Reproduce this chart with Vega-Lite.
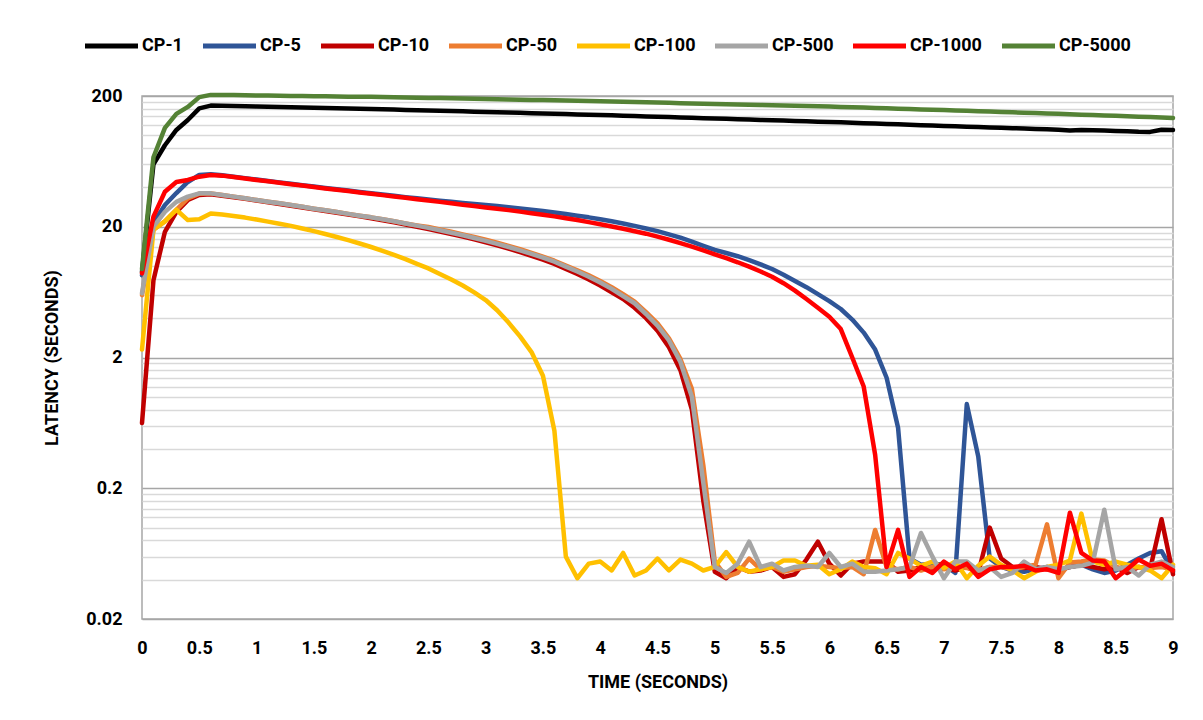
{
"$schema": "https://vega.github.io/schema/vega-lite/v6.json",
"width": 1031, "height": 523,
"autosize": {"type": "none"},
"padding": {"left": 142, "top": 96, "right": 30, "bottom": 101},
"background": "white",
"config": {"view": {"stroke": "#a6a6a6", "strokeWidth": 1.5}, "font": "Roboto"},
"datasets": {
"pts": [
{"s":"CP-1","t":0,"v":9},{"s":"CP-1","t":0.1,"v":60},{"s":"CP-1","t":0.2,"v":84},{"s":"CP-1","t":0.3,"v":110},{"s":"CP-1","t":0.4,"v":131},{"s":"CP-1","t":0.5,"v":161},{"s":"CP-1","t":0.6,"v":169},{"s":"CP-1","t":0.7,"v":168.3},{"s":"CP-1","t":0.8,"v":167.6},{"s":"CP-1","t":0.9,"v":166.8},
{"s":"CP-1","t":1,"v":166},{"s":"CP-1","t":1.1,"v":165.3},{"s":"CP-1","t":1.2,"v":164.6},{"s":"CP-1","t":1.3,"v":163.9},{"s":"CP-1","t":1.4,"v":163.2},{"s":"CP-1","t":1.5,"v":162.5},{"s":"CP-1","t":1.6,"v":161.8},{"s":"CP-1","t":1.7,"v":161.1},{"s":"CP-1","t":1.8,"v":160.4},{"s":"CP-1","t":1.9,"v":159.7},
{"s":"CP-1","t":2,"v":159},{"s":"CP-1","t":2.1,"v":158.2},{"s":"CP-1","t":2.2,"v":157.4},{"s":"CP-1","t":2.3,"v":156.6},{"s":"CP-1","t":2.4,"v":155.8},{"s":"CP-1","t":2.5,"v":155},{"s":"CP-1","t":2.6,"v":154.2},{"s":"CP-1","t":2.7,"v":153.4},{"s":"CP-1","t":2.8,"v":152.6},{"s":"CP-1","t":2.9,"v":151.8},
{"s":"CP-1","t":3,"v":151},{"s":"CP-1","t":3.1,"v":150.2},{"s":"CP-1","t":3.2,"v":149.4},{"s":"CP-1","t":3.3,"v":148.6},{"s":"CP-1","t":3.4,"v":147.8},{"s":"CP-1","t":3.5,"v":147},{"s":"CP-1","t":3.6,"v":146.2},{"s":"CP-1","t":3.7,"v":145.4},{"s":"CP-1","t":3.8,"v":144.6},{"s":"CP-1","t":3.9,"v":143.8},
{"s":"CP-1","t":4,"v":143},{"s":"CP-1","t":4.1,"v":142.2},{"s":"CP-1","t":4.2,"v":141.3},{"s":"CP-1","t":4.3,"v":140.5},{"s":"CP-1","t":4.4,"v":139.6},{"s":"CP-1","t":4.5,"v":138.8},{"s":"CP-1","t":4.6,"v":137.9},{"s":"CP-1","t":4.7,"v":137.1},{"s":"CP-1","t":4.8,"v":136.2},{"s":"CP-1","t":4.9,"v":135.4},
{"s":"CP-1","t":5,"v":134.5},{"s":"CP-1","t":5.1,"v":133.7},{"s":"CP-1","t":5.2,"v":132.9},{"s":"CP-1","t":5.3,"v":132.1},{"s":"CP-1","t":5.4,"v":131.3},{"s":"CP-1","t":5.5,"v":130.5},{"s":"CP-1","t":5.6,"v":129.7},{"s":"CP-1","t":5.7,"v":128.9},{"s":"CP-1","t":5.8,"v":128.1},{"s":"CP-1","t":5.9,"v":127.3},
{"s":"CP-1","t":6,"v":126.5},{"s":"CP-1","t":6.1,"v":125.7},{"s":"CP-1","t":6.2,"v":124.8},{"s":"CP-1","t":6.3,"v":124},{"s":"CP-1","t":6.4,"v":123.1},{"s":"CP-1","t":6.5,"v":122.3},{"s":"CP-1","t":6.6,"v":121.4},{"s":"CP-1","t":6.7,"v":120.6},{"s":"CP-1","t":6.8,"v":119.7},{"s":"CP-1","t":6.9,"v":118.9},
{"s":"CP-1","t":7,"v":118},{"s":"CP-1","t":7.1,"v":117.3},{"s":"CP-1","t":7.2,"v":116.5},{"s":"CP-1","t":7.3,"v":115.8},{"s":"CP-1","t":7.4,"v":115},{"s":"CP-1","t":7.5,"v":114.3},{"s":"CP-1","t":7.6,"v":113.5},{"s":"CP-1","t":7.7,"v":112.8},{"s":"CP-1","t":7.8,"v":112},{"s":"CP-1","t":7.9,"v":111.3},
{"s":"CP-1","t":8,"v":110.5},{"s":"CP-1","t":8.1,"v":109},{"s":"CP-1","t":8.2,"v":109.8},{"s":"CP-1","t":8.3,"v":109.5},{"s":"CP-1","t":8.4,"v":108.8},{"s":"CP-1","t":8.5,"v":108},{"s":"CP-1","t":8.6,"v":107.3},{"s":"CP-1","t":8.7,"v":106.5},{"s":"CP-1","t":8.8,"v":106.3},{"s":"CP-1","t":8.9,"v":110.5},{"s":"CP-1","t":9,"v":110},

{"s":"CP-5","t":0,"v":8.5},{"s":"CP-5","t":0.1,"v":21.4},{"s":"CP-5","t":0.2,"v":29.3},{"s":"CP-5","t":0.3,"v":36.2},{"s":"CP-5","t":0.4,"v":44},{"s":"CP-5","t":0.5,"v":49.8},{"s":"CP-5","t":0.6,"v":50.5},{"s":"CP-5","t":0.7,"v":49.5},{"s":"CP-5","t":0.8,"v":48.3},{"s":"CP-5","t":0.9,"v":47.1},
{"s":"CP-5","t":1,"v":45.9},{"s":"CP-5","t":1.1,"v":44.8},{"s":"CP-5","t":1.2,"v":43.7},{"s":"CP-5","t":1.3,"v":42.6},{"s":"CP-5","t":1.4,"v":41.6},{"s":"CP-5","t":1.5,"v":40.6},{"s":"CP-5","t":1.6,"v":39.6},{"s":"CP-5","t":1.7,"v":38.7},{"s":"CP-5","t":1.8,"v":37.8},{"s":"CP-5","t":1.9,"v":36.9},
{"s":"CP-5","t":2,"v":36.1},{"s":"CP-5","t":2.1,"v":35.3},{"s":"CP-5","t":2.2,"v":34.5},{"s":"CP-5","t":2.3,"v":33.7},{"s":"CP-5","t":2.4,"v":33},{"s":"CP-5","t":2.5,"v":32.3},{"s":"CP-5","t":2.6,"v":31.6},{"s":"CP-5","t":2.7,"v":31},{"s":"CP-5","t":2.8,"v":30.4},{"s":"CP-5","t":2.9,"v":29.8},
{"s":"CP-5","t":3,"v":29.3},{"s":"CP-5","t":3.1,"v":28.8},{"s":"CP-5","t":3.2,"v":28.2},{"s":"CP-5","t":3.3,"v":27.6},{"s":"CP-5","t":3.4,"v":27},{"s":"CP-5","t":3.5,"v":26.4},{"s":"CP-5","t":3.6,"v":25.7},{"s":"CP-5","t":3.7,"v":25},{"s":"CP-5","t":3.8,"v":24.3},{"s":"CP-5","t":3.9,"v":23.6},
{"s":"CP-5","t":4,"v":22.8},{"s":"CP-5","t":4.1,"v":22},{"s":"CP-5","t":4.2,"v":21.2},{"s":"CP-5","t":4.3,"v":20.3},{"s":"CP-5","t":4.4,"v":19.4},{"s":"CP-5","t":4.5,"v":18.5},{"s":"CP-5","t":4.6,"v":17.5},{"s":"CP-5","t":4.7,"v":16.5},{"s":"CP-5","t":4.8,"v":15.4},{"s":"CP-5","t":4.9,"v":14.3},
{"s":"CP-5","t":5,"v":13.3},{"s":"CP-5","t":5.1,"v":12.6},{"s":"CP-5","t":5.2,"v":11.9},{"s":"CP-5","t":5.3,"v":11.1},{"s":"CP-5","t":5.4,"v":10.3},{"s":"CP-5","t":5.5,"v":9.5},{"s":"CP-5","t":5.6,"v":8.6},{"s":"CP-5","t":5.7,"v":7.7},{"s":"CP-5","t":5.8,"v":6.9},{"s":"CP-5","t":5.9,"v":6.1},
{"s":"CP-5","t":6,"v":5.4},{"s":"CP-5","t":6.1,"v":4.7},{"s":"CP-5","t":6.2,"v":3.9},{"s":"CP-5","t":6.3,"v":3.1},{"s":"CP-5","t":6.4,"v":2.3},{"s":"CP-5","t":6.5,"v":1.4},{"s":"CP-5","t":6.6,"v":0.58},{"s":"CP-5","t":6.7,"v":0.058},{"s":"CP-5","t":6.8,"v":0.052},{"s":"CP-5","t":6.9,"v":0.053},
{"s":"CP-5","t":7,"v":0.052},{"s":"CP-5","t":7.1,"v":0.045},{"s":"CP-5","t":7.2,"v":0.88},{"s":"CP-5","t":7.3,"v":0.35},{"s":"CP-5","t":7.4,"v":0.058},{"s":"CP-5","t":7.5,"v":0.05},{"s":"CP-5","t":7.6,"v":0.047},{"s":"CP-5","t":7.7,"v":0.046},{"s":"CP-5","t":7.8,"v":0.048},{"s":"CP-5","t":7.9,"v":0.05},
{"s":"CP-5","t":8,"v":0.047},{"s":"CP-5","t":8.1,"v":0.05},{"s":"CP-5","t":8.2,"v":0.052},{"s":"CP-5","t":8.3,"v":0.048},{"s":"CP-5","t":8.4,"v":0.045},{"s":"CP-5","t":8.5,"v":0.047},{"s":"CP-5","t":8.6,"v":0.052},{"s":"CP-5","t":8.7,"v":0.058},{"s":"CP-5","t":8.8,"v":0.064},{"s":"CP-5","t":8.9,"v":0.066},{"s":"CP-5","t":9,"v":0.046},

{"s":"CP-10","t":0,"v":0.63},{"s":"CP-10","t":0.1,"v":7.8},{"s":"CP-10","t":0.2,"v":18.3},{"s":"CP-10","t":0.3,"v":26},{"s":"CP-10","t":0.4,"v":32},{"s":"CP-10","t":0.5,"v":35},{"s":"CP-10","t":0.6,"v":35.5},{"s":"CP-10","t":0.7,"v":34.5},{"s":"CP-10","t":0.8,"v":33.6},{"s":"CP-10","t":0.9,"v":32.7},
{"s":"CP-10","t":1,"v":31.7},{"s":"CP-10","t":1.1,"v":30.8},{"s":"CP-10","t":1.2,"v":29.9},{"s":"CP-10","t":1.3,"v":29},{"s":"CP-10","t":1.4,"v":28.1},{"s":"CP-10","t":1.5,"v":27.2},{"s":"CP-10","t":1.6,"v":26.4},{"s":"CP-10","t":1.7,"v":25.6},{"s":"CP-10","t":1.8,"v":24.8},{"s":"CP-10","t":1.9,"v":24},
{"s":"CP-10","t":2,"v":23.2},{"s":"CP-10","t":2.1,"v":22.4},{"s":"CP-10","t":2.2,"v":21.6},{"s":"CP-10","t":2.3,"v":20.8},{"s":"CP-10","t":2.4,"v":20},{"s":"CP-10","t":2.5,"v":19.2},{"s":"CP-10","t":2.6,"v":18.4},{"s":"CP-10","t":2.7,"v":17.6},{"s":"CP-10","t":2.8,"v":16.8},{"s":"CP-10","t":2.9,"v":16},
{"s":"CP-10","t":3,"v":15.2},{"s":"CP-10","t":3.1,"v":14.4},{"s":"CP-10","t":3.2,"v":13.6},{"s":"CP-10","t":3.3,"v":12.8},{"s":"CP-10","t":3.4,"v":12},{"s":"CP-10","t":3.5,"v":11.2},{"s":"CP-10","t":3.6,"v":10.4},{"s":"CP-10","t":3.7,"v":9.5},{"s":"CP-10","t":3.8,"v":8.7},{"s":"CP-10","t":3.9,"v":7.9},
{"s":"CP-10","t":4,"v":7.1},{"s":"CP-10","t":4.1,"v":6.3},{"s":"CP-10","t":4.2,"v":5.6},{"s":"CP-10","t":4.3,"v":4.8},{"s":"CP-10","t":4.4,"v":4},{"s":"CP-10","t":4.5,"v":3.2},{"s":"CP-10","t":4.6,"v":2.4},{"s":"CP-10","t":4.7,"v":1.6},{"s":"CP-10","t":4.8,"v":0.8},{"s":"CP-10","t":4.9,"v":0.16},
{"s":"CP-10","t":5,"v":0.046},{"s":"CP-10","t":5.1,"v":0.041},{"s":"CP-10","t":5.2,"v":0.05},{"s":"CP-10","t":5.3,"v":0.046},{"s":"CP-10","t":5.4,"v":0.047},{"s":"CP-10","t":5.5,"v":0.05},{"s":"CP-10","t":5.6,"v":0.042},{"s":"CP-10","t":5.7,"v":0.044},{"s":"CP-10","t":5.8,"v":0.057},{"s":"CP-10","t":5.9,"v":0.078},
{"s":"CP-10","t":6,"v":0.053},{"s":"CP-10","t":6.1,"v":0.043},{"s":"CP-10","t":6.2,"v":0.053},{"s":"CP-10","t":6.3,"v":0.055},{"s":"CP-10","t":6.4,"v":0.055},{"s":"CP-10","t":6.5,"v":0.055},{"s":"CP-10","t":6.6,"v":0.046},{"s":"CP-10","t":6.7,"v":0.047},{"s":"CP-10","t":6.8,"v":0.05},{"s":"CP-10","t":6.9,"v":0.048},
{"s":"CP-10","t":7,"v":0.05},{"s":"CP-10","t":7.1,"v":0.047},{"s":"CP-10","t":7.2,"v":0.05},{"s":"CP-10","t":7.3,"v":0.045},{"s":"CP-10","t":7.4,"v":0.1},{"s":"CP-10","t":7.5,"v":0.058},{"s":"CP-10","t":7.6,"v":0.05},{"s":"CP-10","t":7.7,"v":0.049},{"s":"CP-10","t":7.8,"v":0.05},{"s":"CP-10","t":7.9,"v":0.048},
{"s":"CP-10","t":8,"v":0.047},{"s":"CP-10","t":8.1,"v":0.05},{"s":"CP-10","t":8.2,"v":0.052},{"s":"CP-10","t":8.3,"v":0.05},{"s":"CP-10","t":8.4,"v":0.048},{"s":"CP-10","t":8.5,"v":0.05},{"s":"CP-10","t":8.6,"v":0.045},{"s":"CP-10","t":8.7,"v":0.05},{"s":"CP-10","t":8.8,"v":0.048},{"s":"CP-10","t":8.9,"v":0.116},{"s":"CP-10","t":9,"v":0.044},

{"s":"CP-50","t":0,"v":6},{"s":"CP-50","t":0.1,"v":19},{"s":"CP-50","t":0.2,"v":22},{"s":"CP-50","t":0.3,"v":27},{"s":"CP-50","t":0.4,"v":33},{"s":"CP-50","t":0.5,"v":35.8},{"s":"CP-50","t":0.6,"v":36},{"s":"CP-50","t":0.7,"v":35},{"s":"CP-50","t":0.8,"v":34},{"s":"CP-50","t":0.9,"v":33},
{"s":"CP-50","t":1,"v":32},{"s":"CP-50","t":1.1,"v":31.1},{"s":"CP-50","t":1.2,"v":30.2},{"s":"CP-50","t":1.3,"v":29.3},{"s":"CP-50","t":1.4,"v":28.4},{"s":"CP-50","t":1.5,"v":27.5},{"s":"CP-50","t":1.6,"v":26.7},{"s":"CP-50","t":1.7,"v":25.9},{"s":"CP-50","t":1.8,"v":25.1},{"s":"CP-50","t":1.9,"v":24.3},
{"s":"CP-50","t":2,"v":23.6},{"s":"CP-50","t":2.1,"v":22.8},{"s":"CP-50","t":2.2,"v":22},{"s":"CP-50","t":2.3,"v":21.2},{"s":"CP-50","t":2.4,"v":20.5},{"s":"CP-50","t":2.5,"v":19.9},{"s":"CP-50","t":2.6,"v":19.1},{"s":"CP-50","t":2.7,"v":18.3},{"s":"CP-50","t":2.8,"v":17.5},{"s":"CP-50","t":2.9,"v":16.7},
{"s":"CP-50","t":3,"v":15.9},{"s":"CP-50","t":3.1,"v":15.1},{"s":"CP-50","t":3.2,"v":14.3},{"s":"CP-50","t":3.3,"v":13.5},{"s":"CP-50","t":3.4,"v":12.6},{"s":"CP-50","t":3.5,"v":11.8},{"s":"CP-50","t":3.6,"v":11},{"s":"CP-50","t":3.7,"v":10.1},{"s":"CP-50","t":3.8,"v":9.3},{"s":"CP-50","t":3.9,"v":8.5},
{"s":"CP-50","t":4,"v":7.7},{"s":"CP-50","t":4.1,"v":6.9},{"s":"CP-50","t":4.2,"v":6.1},{"s":"CP-50","t":4.3,"v":5.35},{"s":"CP-50","t":4.4,"v":4.45},{"s":"CP-50","t":4.5,"v":3.65},{"s":"CP-50","t":4.6,"v":2.8},{"s":"CP-50","t":4.7,"v":1.95},{"s":"CP-50","t":4.8,"v":1.15},{"s":"CP-50","t":4.9,"v":0.3},
{"s":"CP-50","t":5,"v":0.055},{"s":"CP-50","t":5.1,"v":0.042},{"s":"CP-50","t":5.2,"v":0.045},{"s":"CP-50","t":5.3,"v":0.058},{"s":"CP-50","t":5.4,"v":0.048},{"s":"CP-50","t":5.5,"v":0.05},{"s":"CP-50","t":5.6,"v":0.046},{"s":"CP-50","t":5.7,"v":0.048},{"s":"CP-50","t":5.8,"v":0.05},{"s":"CP-50","t":5.9,"v":0.051},
{"s":"CP-50","t":6,"v":0.05},{"s":"CP-50","t":6.1,"v":0.049},{"s":"CP-50","t":6.2,"v":0.05},{"s":"CP-50","t":6.3,"v":0.044},{"s":"CP-50","t":6.4,"v":0.096},{"s":"CP-50","t":6.5,"v":0.05},{"s":"CP-50","t":6.6,"v":0.048},{"s":"CP-50","t":6.7,"v":0.05},{"s":"CP-50","t":6.8,"v":0.047},{"s":"CP-50","t":6.9,"v":0.05},
{"s":"CP-50","t":7,"v":0.048},{"s":"CP-50","t":7.1,"v":0.05},{"s":"CP-50","t":7.2,"v":0.049},{"s":"CP-50","t":7.3,"v":0.047},{"s":"CP-50","t":7.4,"v":0.05},{"s":"CP-50","t":7.5,"v":0.05},{"s":"CP-50","t":7.6,"v":0.048},{"s":"CP-50","t":7.7,"v":0.05},{"s":"CP-50","t":7.8,"v":0.052},{"s":"CP-50","t":7.9,"v":0.106},
{"s":"CP-50","t":8,"v":0.041},{"s":"CP-50","t":8.1,"v":0.054},{"s":"CP-50","t":8.2,"v":0.055},{"s":"CP-50","t":8.3,"v":0.057},{"s":"CP-50","t":8.4,"v":0.056},{"s":"CP-50","t":8.5,"v":0.05},{"s":"CP-50","t":8.6,"v":0.048},{"s":"CP-50","t":8.7,"v":0.05},{"s":"CP-50","t":8.8,"v":0.049},{"s":"CP-50","t":8.9,"v":0.05},{"s":"CP-50","t":9,"v":0.048},

{"s":"CP-100","t":0,"v":2.3},{"s":"CP-100","t":0.1,"v":19},{"s":"CP-100","t":0.2,"v":22},{"s":"CP-100","t":0.3,"v":27},{"s":"CP-100","t":0.4,"v":22.5},{"s":"CP-100","t":0.5,"v":22.8},{"s":"CP-100","t":0.6,"v":25.3},{"s":"CP-100","t":0.7,"v":24.8},{"s":"CP-100","t":0.8,"v":24.2},{"s":"CP-100","t":0.9,"v":23.5},
{"s":"CP-100","t":1,"v":22.7},{"s":"CP-100","t":1.1,"v":21.9},{"s":"CP-100","t":1.2,"v":21.1},{"s":"CP-100","t":1.3,"v":20.3},{"s":"CP-100","t":1.4,"v":19.4},{"s":"CP-100","t":1.5,"v":18.5},{"s":"CP-100","t":1.6,"v":17.6},{"s":"CP-100","t":1.7,"v":16.7},{"s":"CP-100","t":1.8,"v":15.8},{"s":"CP-100","t":1.9,"v":14.9},
{"s":"CP-100","t":2,"v":14},{"s":"CP-100","t":2.1,"v":13.1},{"s":"CP-100","t":2.2,"v":12.2},{"s":"CP-100","t":2.3,"v":11.3},{"s":"CP-100","t":2.4,"v":10.4},{"s":"CP-100","t":2.5,"v":9.6},{"s":"CP-100","t":2.6,"v":8.7},{"s":"CP-100","t":2.7,"v":7.9},{"s":"CP-100","t":2.8,"v":7.1},{"s":"CP-100","t":2.9,"v":6.3},
{"s":"CP-100","t":3,"v":5.5},{"s":"CP-100","t":3.1,"v":4.6},{"s":"CP-100","t":3.2,"v":3.7},{"s":"CP-100","t":3.3,"v":2.9},{"s":"CP-100","t":3.4,"v":2.2},{"s":"CP-100","t":3.5,"v":1.45},{"s":"CP-100","t":3.6,"v":0.55},{"s":"CP-100","t":3.7,"v":0.06},{"s":"CP-100","t":3.8,"v":0.041},{"s":"CP-100","t":3.9,"v":0.053},
{"s":"CP-100","t":4,"v":0.055},{"s":"CP-100","t":4.1,"v":0.047},{"s":"CP-100","t":4.2,"v":0.064},{"s":"CP-100","t":4.3,"v":0.043},{"s":"CP-100","t":4.4,"v":0.047},{"s":"CP-100","t":4.5,"v":0.058},{"s":"CP-100","t":4.6,"v":0.047},{"s":"CP-100","t":4.7,"v":0.057},{"s":"CP-100","t":4.8,"v":0.053},{"s":"CP-100","t":4.9,"v":0.047},
{"s":"CP-100","t":5,"v":0.05},{"s":"CP-100","t":5.1,"v":0.065},{"s":"CP-100","t":5.2,"v":0.05},{"s":"CP-100","t":5.3,"v":0.046},{"s":"CP-100","t":5.4,"v":0.048},{"s":"CP-100","t":5.5,"v":0.05},{"s":"CP-100","t":5.6,"v":0.056},{"s":"CP-100","t":5.7,"v":0.056},{"s":"CP-100","t":5.8,"v":0.051},{"s":"CP-100","t":5.9,"v":0.052},
{"s":"CP-100","t":6,"v":0.044},{"s":"CP-100","t":6.1,"v":0.048},{"s":"CP-100","t":6.2,"v":0.055},{"s":"CP-100","t":6.3,"v":0.05},{"s":"CP-100","t":6.4,"v":0.049},{"s":"CP-100","t":6.5,"v":0.044},{"s":"CP-100","t":6.6,"v":0.064},{"s":"CP-100","t":6.7,"v":0.058},{"s":"CP-100","t":6.8,"v":0.051},{"s":"CP-100","t":6.9,"v":0.055},
{"s":"CP-100","t":7,"v":0.049},{"s":"CP-100","t":7.1,"v":0.055},{"s":"CP-100","t":7.2,"v":0.041},{"s":"CP-100","t":7.3,"v":0.051},{"s":"CP-100","t":7.4,"v":0.06},{"s":"CP-100","t":7.5,"v":0.052},{"s":"CP-100","t":7.6,"v":0.047},{"s":"CP-100","t":7.7,"v":0.041},{"s":"CP-100","t":7.8,"v":0.046},{"s":"CP-100","t":7.9,"v":0.05},
{"s":"CP-100","t":8,"v":0.052},{"s":"CP-100","t":8.1,"v":0.056},{"s":"CP-100","t":8.2,"v":0.128},{"s":"CP-100","t":8.3,"v":0.055},{"s":"CP-100","t":8.4,"v":0.052},{"s":"CP-100","t":8.5,"v":0.055},{"s":"CP-100","t":8.6,"v":0.052},{"s":"CP-100","t":8.7,"v":0.05},{"s":"CP-100","t":8.8,"v":0.047},{"s":"CP-100","t":8.9,"v":0.041},{"s":"CP-100","t":9,"v":0.052},

{"s":"CP-500","t":0,"v":6.2},{"s":"CP-500","t":0.1,"v":20},{"s":"CP-500","t":0.2,"v":26},{"s":"CP-500","t":0.3,"v":31},{"s":"CP-500","t":0.4,"v":34},{"s":"CP-500","t":0.5,"v":36},{"s":"CP-500","t":0.6,"v":36},{"s":"CP-500","t":0.7,"v":35},{"s":"CP-500","t":0.8,"v":34},{"s":"CP-500","t":0.9,"v":33},
{"s":"CP-500","t":1,"v":32},{"s":"CP-500","t":1.1,"v":31.1},{"s":"CP-500","t":1.2,"v":30.2},{"s":"CP-500","t":1.3,"v":29.3},{"s":"CP-500","t":1.4,"v":28.4},{"s":"CP-500","t":1.5,"v":27.5},{"s":"CP-500","t":1.6,"v":26.7},{"s":"CP-500","t":1.7,"v":25.9},{"s":"CP-500","t":1.8,"v":25.1},{"s":"CP-500","t":1.9,"v":24.3},
{"s":"CP-500","t":2,"v":23.6},{"s":"CP-500","t":2.1,"v":22.8},{"s":"CP-500","t":2.2,"v":22},{"s":"CP-500","t":2.3,"v":21.2},{"s":"CP-500","t":2.4,"v":20.4},{"s":"CP-500","t":2.5,"v":19.6},{"s":"CP-500","t":2.6,"v":18.8},{"s":"CP-500","t":2.7,"v":18},{"s":"CP-500","t":2.8,"v":17.2},{"s":"CP-500","t":2.9,"v":16.4},
{"s":"CP-500","t":3,"v":15.6},{"s":"CP-500","t":3.1,"v":14.8},{"s":"CP-500","t":3.2,"v":14},{"s":"CP-500","t":3.3,"v":13.2},{"s":"CP-500","t":3.4,"v":12.4},{"s":"CP-500","t":3.5,"v":11.6},{"s":"CP-500","t":3.6,"v":10.8},{"s":"CP-500","t":3.7,"v":9.9},{"s":"CP-500","t":3.8,"v":9.1},{"s":"CP-500","t":3.9,"v":8.3},
{"s":"CP-500","t":4,"v":7.5},{"s":"CP-500","t":4.1,"v":6.7},{"s":"CP-500","t":4.2,"v":5.9},{"s":"CP-500","t":4.3,"v":5.2},{"s":"CP-500","t":4.4,"v":4.3},{"s":"CP-500","t":4.5,"v":3.5},{"s":"CP-500","t":4.6,"v":2.7},{"s":"CP-500","t":4.7,"v":1.85},{"s":"CP-500","t":4.8,"v":1},{"s":"CP-500","t":4.9,"v":0.22},
{"s":"CP-500","t":5,"v":0.05},{"s":"CP-500","t":5.1,"v":0.045},{"s":"CP-500","t":5.2,"v":0.053},{"s":"CP-500","t":5.3,"v":0.078},{"s":"CP-500","t":5.4,"v":0.05},{"s":"CP-500","t":5.5,"v":0.053},{"s":"CP-500","t":5.6,"v":0.047},{"s":"CP-500","t":5.7,"v":0.05},{"s":"CP-500","t":5.8,"v":0.051},{"s":"CP-500","t":5.9,"v":0.05},
{"s":"CP-500","t":6,"v":0.064},{"s":"CP-500","t":6.1,"v":0.05},{"s":"CP-500","t":6.2,"v":0.053},{"s":"CP-500","t":6.3,"v":0.046},{"s":"CP-500","t":6.4,"v":0.046},{"s":"CP-500","t":6.5,"v":0.047},{"s":"CP-500","t":6.6,"v":0.048},{"s":"CP-500","t":6.7,"v":0.05},{"s":"CP-500","t":6.8,"v":0.091},{"s":"CP-500","t":6.9,"v":0.06},
{"s":"CP-500","t":7,"v":0.041},{"s":"CP-500","t":7.1,"v":0.055},{"s":"CP-500","t":7.2,"v":0.055},{"s":"CP-500","t":7.3,"v":0.047},{"s":"CP-500","t":7.4,"v":0.05},{"s":"CP-500","t":7.5,"v":0.042},{"s":"CP-500","t":7.6,"v":0.045},{"s":"CP-500","t":7.7,"v":0.055},{"s":"CP-500","t":7.8,"v":0.048},{"s":"CP-500","t":7.9,"v":0.05},
{"s":"CP-500","t":8,"v":0.048},{"s":"CP-500","t":8.1,"v":0.05},{"s":"CP-500","t":8.2,"v":0.051},{"s":"CP-500","t":8.3,"v":0.054},{"s":"CP-500","t":8.4,"v":0.137},{"s":"CP-500","t":8.5,"v":0.048},{"s":"CP-500","t":8.6,"v":0.05},{"s":"CP-500","t":8.7,"v":0.043},{"s":"CP-500","t":8.8,"v":0.052},{"s":"CP-500","t":8.9,"v":0.055},{"s":"CP-500","t":9,"v":0.05},

{"s":"CP-1000","t":0,"v":8.8},{"s":"CP-1000","t":0.1,"v":23.9},{"s":"CP-1000","t":0.2,"v":37},{"s":"CP-1000","t":0.3,"v":44},{"s":"CP-1000","t":0.4,"v":45.6},{"s":"CP-1000","t":0.5,"v":48.3},{"s":"CP-1000","t":0.6,"v":49.8},{"s":"CP-1000","t":0.7,"v":49.2},{"s":"CP-1000","t":0.8,"v":48},{"s":"CP-1000","t":0.9,"v":46.8},
{"s":"CP-1000","t":1,"v":45.6},{"s":"CP-1000","t":1.1,"v":44.5},{"s":"CP-1000","t":1.2,"v":43.4},{"s":"CP-1000","t":1.3,"v":42.3},{"s":"CP-1000","t":1.4,"v":41.3},{"s":"CP-1000","t":1.5,"v":40.3},{"s":"CP-1000","t":1.6,"v":39.3},{"s":"CP-1000","t":1.7,"v":38.4},{"s":"CP-1000","t":1.8,"v":37.5},{"s":"CP-1000","t":1.9,"v":36.6},
{"s":"CP-1000","t":2,"v":35.8},{"s":"CP-1000","t":2.1,"v":34.9},{"s":"CP-1000","t":2.2,"v":34.1},{"s":"CP-1000","t":2.3,"v":33.3},{"s":"CP-1000","t":2.4,"v":32.5},{"s":"CP-1000","t":2.5,"v":31.7},{"s":"CP-1000","t":2.6,"v":31},{"s":"CP-1000","t":2.7,"v":30.2},{"s":"CP-1000","t":2.8,"v":29.5},{"s":"CP-1000","t":2.9,"v":28.8},
{"s":"CP-1000","t":3,"v":28.1},{"s":"CP-1000","t":3.1,"v":27.5},{"s":"CP-1000","t":3.2,"v":26.8},{"s":"CP-1000","t":3.3,"v":26.1},{"s":"CP-1000","t":3.4,"v":25.4},{"s":"CP-1000","t":3.5,"v":24.7},{"s":"CP-1000","t":3.6,"v":24},{"s":"CP-1000","t":3.7,"v":23.2},{"s":"CP-1000","t":3.8,"v":22.5},{"s":"CP-1000","t":3.9,"v":21.7},
{"s":"CP-1000","t":4,"v":20.9},{"s":"CP-1000","t":4.1,"v":20.1},{"s":"CP-1000","t":4.2,"v":19.3},{"s":"CP-1000","t":4.3,"v":18.5},{"s":"CP-1000","t":4.4,"v":17.7},{"s":"CP-1000","t":4.5,"v":16.8},{"s":"CP-1000","t":4.6,"v":15.9},{"s":"CP-1000","t":4.7,"v":15},{"s":"CP-1000","t":4.8,"v":14.1},{"s":"CP-1000","t":4.9,"v":13.2},
{"s":"CP-1000","t":5,"v":12.3},{"s":"CP-1000","t":5.1,"v":11.5},{"s":"CP-1000","t":5.2,"v":10.7},{"s":"CP-1000","t":5.3,"v":9.9},{"s":"CP-1000","t":5.4,"v":9.1},{"s":"CP-1000","t":5.5,"v":8.3},{"s":"CP-1000","t":5.6,"v":7.4},{"s":"CP-1000","t":5.7,"v":6.5},{"s":"CP-1000","t":5.8,"v":5.6},{"s":"CP-1000","t":5.9,"v":4.8},
{"s":"CP-1000","t":6,"v":4.1},{"s":"CP-1000","t":6.1,"v":3.3},{"s":"CP-1000","t":6.2,"v":2},{"s":"CP-1000","t":6.3,"v":1.2},{"s":"CP-1000","t":6.4,"v":0.36},{"s":"CP-1000","t":6.5,"v":0.05},{"s":"CP-1000","t":6.6,"v":0.096},{"s":"CP-1000","t":6.7,"v":0.042},{"s":"CP-1000","t":6.8,"v":0.05},{"s":"CP-1000","t":6.9,"v":0.045},
{"s":"CP-1000","t":7,"v":0.055},{"s":"CP-1000","t":7.1,"v":0.048},{"s":"CP-1000","t":7.2,"v":0.053},{"s":"CP-1000","t":7.3,"v":0.042},{"s":"CP-1000","t":7.4,"v":0.048},{"s":"CP-1000","t":7.5,"v":0.05},{"s":"CP-1000","t":7.6,"v":0.05},{"s":"CP-1000","t":7.7,"v":0.051},{"s":"CP-1000","t":7.8,"v":0.047},{"s":"CP-1000","t":7.9,"v":0.048},
{"s":"CP-1000","t":8,"v":0.045},{"s":"CP-1000","t":8.1,"v":0.13},{"s":"CP-1000","t":8.2,"v":0.064},{"s":"CP-1000","t":8.3,"v":0.056},{"s":"CP-1000","t":8.4,"v":0.055},{"s":"CP-1000","t":8.5,"v":0.041},{"s":"CP-1000","t":8.6,"v":0.048},{"s":"CP-1000","t":8.7,"v":0.057},{"s":"CP-1000","t":8.8,"v":0.051},{"s":"CP-1000","t":8.9,"v":0.053},{"s":"CP-1000","t":9,"v":0.047},

{"s":"CP-5000","t":0,"v":9.5},{"s":"CP-5000","t":0.1,"v":68},{"s":"CP-5000","t":0.2,"v":114},{"s":"CP-5000","t":0.3,"v":146},{"s":"CP-5000","t":0.4,"v":165},{"s":"CP-5000","t":0.5,"v":196},{"s":"CP-5000","t":0.6,"v":204},{"s":"CP-5000","t":0.7,"v":203.6},{"s":"CP-5000","t":0.8,"v":203.2},{"s":"CP-5000","t":0.9,"v":202.6},
{"s":"CP-5000","t":1,"v":202},{"s":"CP-5000","t":1.1,"v":201.5},{"s":"CP-5000","t":1.2,"v":201},{"s":"CP-5000","t":1.3,"v":200.4},{"s":"CP-5000","t":1.4,"v":199.8},{"s":"CP-5000","t":1.5,"v":199.3},{"s":"CP-5000","t":1.6,"v":198.8},{"s":"CP-5000","t":1.7,"v":198.3},{"s":"CP-5000","t":1.8,"v":197.8},{"s":"CP-5000","t":1.9,"v":197.4},
{"s":"CP-5000","t":2,"v":197},{"s":"CP-5000","t":2.1,"v":196.3},{"s":"CP-5000","t":2.2,"v":195.6},{"s":"CP-5000","t":2.3,"v":194.9},{"s":"CP-5000","t":2.4,"v":194.2},{"s":"CP-5000","t":2.5,"v":193.5},{"s":"CP-5000","t":2.6,"v":192.8},{"s":"CP-5000","t":2.7,"v":192.1},{"s":"CP-5000","t":2.8,"v":191.4},{"s":"CP-5000","t":2.9,"v":190.7},
{"s":"CP-5000","t":3,"v":190},{"s":"CP-5000","t":3.1,"v":189.2},{"s":"CP-5000","t":3.2,"v":188.4},{"s":"CP-5000","t":3.3,"v":187.6},{"s":"CP-5000","t":3.4,"v":186.8},{"s":"CP-5000","t":3.5,"v":186},{"s":"CP-5000","t":3.6,"v":185.2},{"s":"CP-5000","t":3.7,"v":184.4},{"s":"CP-5000","t":3.8,"v":183.6},{"s":"CP-5000","t":3.9,"v":182.8},
{"s":"CP-5000","t":4,"v":182},{"s":"CP-5000","t":4.1,"v":181.2},{"s":"CP-5000","t":4.2,"v":180.4},{"s":"CP-5000","t":4.3,"v":179.6},{"s":"CP-5000","t":4.4,"v":178.8},{"s":"CP-5000","t":4.5,"v":178},{"s":"CP-5000","t":4.6,"v":177.2},{"s":"CP-5000","t":4.7,"v":176.4},{"s":"CP-5000","t":4.8,"v":175.6},{"s":"CP-5000","t":4.9,"v":174.8},
{"s":"CP-5000","t":5,"v":174},{"s":"CP-5000","t":5.1,"v":173.2},{"s":"CP-5000","t":5.2,"v":172.4},{"s":"CP-5000","t":5.3,"v":171.6},{"s":"CP-5000","t":5.4,"v":170.8},{"s":"CP-5000","t":5.5,"v":170},{"s":"CP-5000","t":5.6,"v":169.2},{"s":"CP-5000","t":5.7,"v":168.4},{"s":"CP-5000","t":5.8,"v":167.6},{"s":"CP-5000","t":5.9,"v":166.8},
{"s":"CP-5000","t":6,"v":166},{"s":"CP-5000","t":6.1,"v":165},{"s":"CP-5000","t":6.2,"v":164},{"s":"CP-5000","t":6.3,"v":163},{"s":"CP-5000","t":6.4,"v":162},{"s":"CP-5000","t":6.5,"v":161},{"s":"CP-5000","t":6.6,"v":160},{"s":"CP-5000","t":6.7,"v":159},{"s":"CP-5000","t":6.8,"v":158},{"s":"CP-5000","t":6.9,"v":157},
{"s":"CP-5000","t":7,"v":156},{"s":"CP-5000","t":7.1,"v":155},{"s":"CP-5000","t":7.2,"v":154},{"s":"CP-5000","t":7.3,"v":153},{"s":"CP-5000","t":7.4,"v":152},{"s":"CP-5000","t":7.5,"v":151},{"s":"CP-5000","t":7.6,"v":150},{"s":"CP-5000","t":7.7,"v":149},{"s":"CP-5000","t":7.8,"v":148},{"s":"CP-5000","t":7.9,"v":147},
{"s":"CP-5000","t":8,"v":146},{"s":"CP-5000","t":8.1,"v":145},{"s":"CP-5000","t":8.2,"v":144},{"s":"CP-5000","t":8.3,"v":143},{"s":"CP-5000","t":8.4,"v":142},{"s":"CP-5000","t":8.5,"v":141},{"s":"CP-5000","t":8.6,"v":140},{"s":"CP-5000","t":8.7,"v":139},{"s":"CP-5000","t":8.8,"v":138},{"s":"CP-5000","t":8.9,"v":137},{"s":"CP-5000","t":9,"v":136}
]
},
"data": {"name": "pts"},
"mark": {"type": "line", "strokeWidth": 4.5, "strokeJoin": "round", "strokeCap": "round"},
"encoding": {
"x": {"field": "t", "type": "quantitative", "scale": {"domain": [0, 9], "nice": false},
 "axis": {"title": "TIME (SECONDS)", "values": [0,0.5,1,1.5,2,2.5,3,3.5,4,4.5,5,5.5,6,6.5,7,7.5,8,8.5,9], "format": "~g", "grid": false, "ticks": false, "domain": false, "labelPadding": 20, "labelFlush": false, "labelOverlap": false,
  "labelFont": "Roboto", "labelFontSize": 18, "labelFontWeight": "bold", "labelColor": "#000000",
  "titleFont": "Roboto", "titleFontSize": 18, "titleFontWeight": "bold", "titleColor": "#000000", "titlePadding": 16}},
"y": {"field": "v", "type": "quantitative", "scale": {"type": "log", "domain": [0.02, 200], "nice": false},
 "axis": {"title": "LATENCY (SECONDS)",
  "values": [0.02,0.04,0.06,0.08,0.1,0.12,0.14,0.16,0.18,0.2,0.4,0.6,0.8,1,1.2,1.4,1.6,1.8,2,4,6,8,10,12,14,16,18,20,40,60,80,100,120,140,160,180,200],
  "format": "~g", "labelExpr": "indexof([0.02,0.2,2,20,200], datum.value) >= 0 ? datum.label : ''",
  "grid": true,
  "gridColor": {"condition": {"test": "indexof([0.02,0.2,2,20,200], datum.value) >= 0", "value": "#a6a6a6"}, "value": "#d9d9d9"},
  "gridWidth": {"condition": {"test": "indexof([0.02,0.2,2,20,200], datum.value) >= 0", "value": 1.6}, "value": 1.3},
  "ticks": false, "domain": false, "labelPadding": 20, "labelOverlap": false,
  "labelFont": "Roboto", "labelFontSize": 18, "labelFontWeight": "bold", "labelColor": "#000000",
  "titleFont": "Roboto", "titleFontSize": 18, "titleFontWeight": "bold", "titleColor": "#000000", "titlePadding": 24}},
"color": {"field": "s", "type": "nominal",
 "scale": {"domain": ["CP-1","CP-5","CP-10","CP-50","CP-100","CP-500","CP-1000","CP-5000"], "range": ["#000000","#2f5597","#c00000","#ed7d31","#ffc000","#a5a5a5","#ff0000","#548235"]},
 "legend": {"title": null, "orient": "none", "legendX": -59.5, "legendY": -79, "direction": "horizontal", "padding": 0,
  "symbolType": "stroke", "symbolSize": 2809, "symbolStrokeWidth": 5, "labelOffset": 1.5, "columnPadding": 9,
  "labelFont": "Roboto", "labelFontSize": 18, "labelFontWeight": "bold", "labelColor": "#000000", "labelLimit": 0}}
}
}
